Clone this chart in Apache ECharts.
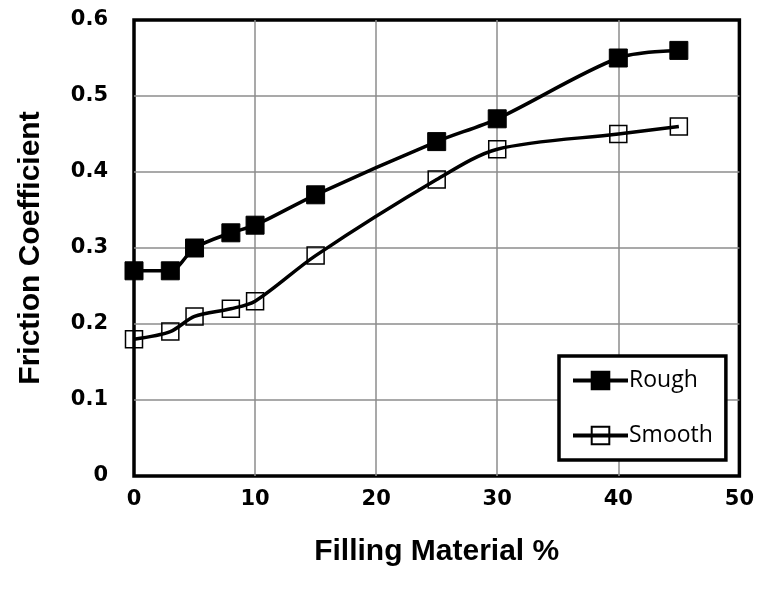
<!DOCTYPE html>
<html><head><meta charset="utf-8">
<script src="https://cdn.jsdelivr.net/npm/echarts@6/dist/echarts.min.js"></script>
<style>html,body{margin:0;padding:0;background:#fff}#c{width:757px;height:600px}</style>
</head><body><div id="c"></div>
<script>
const xValues = [0, 3, 5, 8, 10, 15, 25, 30, 40, 45];
const rough = [0.27, 0.27, 0.30, 0.32, 0.33, 0.37, 0.44, 0.47, 0.55, 0.56];
const smooth = [0.18, 0.19, 0.21, 0.22, 0.23, 0.29, 0.39, 0.43, 0.45, 0.46];
const seriesNames = ['Rough', 'Smooth'];
const xTitle = 'Filling Material %';
const yTitle = 'Friction Coefficient';

const chart = echarts.init(document.getElementById('c'));
const pair = (ys) => xValues.map((x, i) => [x, ys[i]]);
const labelFont = {fontFamily: 'DejaVu Sans', fontWeight: 'bold', fontSize: 21, color: '#000'};
const titleFont = {fontFamily: 'Liberation Sans, Arial, sans-serif', fontWeight: 'bold', fontSize: 30, color: '#000'};
chart.setOption({
  animation: false,
  backgroundColor: '#fff',
  grid: {left: 134, right: 15, top: 20, bottom: 124, show: true, borderColor: '#000', borderWidth: 3.5},
  xAxis: {
    type: 'value', min: 0, max: 50, interval: 10,
    name: xTitle, nameLocation: 'middle', nameGap: 61,
    nameTextStyle: titleFont,
    axisLine: {show: false}, axisTick: {show: false},
    axisLabel: Object.assign({margin: 13}, labelFont),
    splitLine: {show: true, showMinLine: false, showMaxLine: false, lineStyle: {color: '#8c8c8c', width: 1.5}}
  },
  yAxis: {
    type: 'value', min: 0, max: 0.6, interval: 0.1,
    name: yTitle, nameLocation: 'middle', nameGap: 88,
    nameTextStyle: titleFont,
    axisLine: {show: false}, axisTick: {show: false},
    axisLabel: Object.assign({margin: 26, formatter: v => v === 0 ? '0' : v.toFixed(1)}, labelFont),
    splitLine: {show: true, showMinLine: false, showMaxLine: false, lineStyle: {color: '#8c8c8c', width: 1.5}}
  },
  legend: {
    orient: 'vertical', left: 559, top: 356,
    padding: [13, 13, 13, 12], itemGap: 32,
    itemWidth: 55, itemHeight: 22,
    borderColor: '#000', borderWidth: 3.5, backgroundColor: '#fff',
    lineStyle: {width: 4, color: '#000'},
    textStyle: {fontFamily: 'Open Sans, Liberation Sans, sans-serif', fontSize: 23, color: '#000', padding: [0, 0, 0, -4]},
    data: seriesNames
  },
  series: [
    {
      name: seriesNames[0], type: 'line', data: pair(rough), smooth: 0.3,
      symbol: 'rect', symbolSize: 18,
      lineStyle: {color: '#000', width: 3.5},
      itemStyle: {color: '#000', borderColor: '#000', borderWidth: 1}
    },
    {
      name: seriesNames[1], type: 'line', data: pair(smooth), smooth: 0.3,
      symbol: 'rect', symbolSize: 17,
      lineStyle: {color: '#000', width: 3.5},
      itemStyle: {color: 'rgba(255,255,255,0)', borderColor: '#000', borderWidth: 1.5}
    }
  ]
});
</script></body></html>
